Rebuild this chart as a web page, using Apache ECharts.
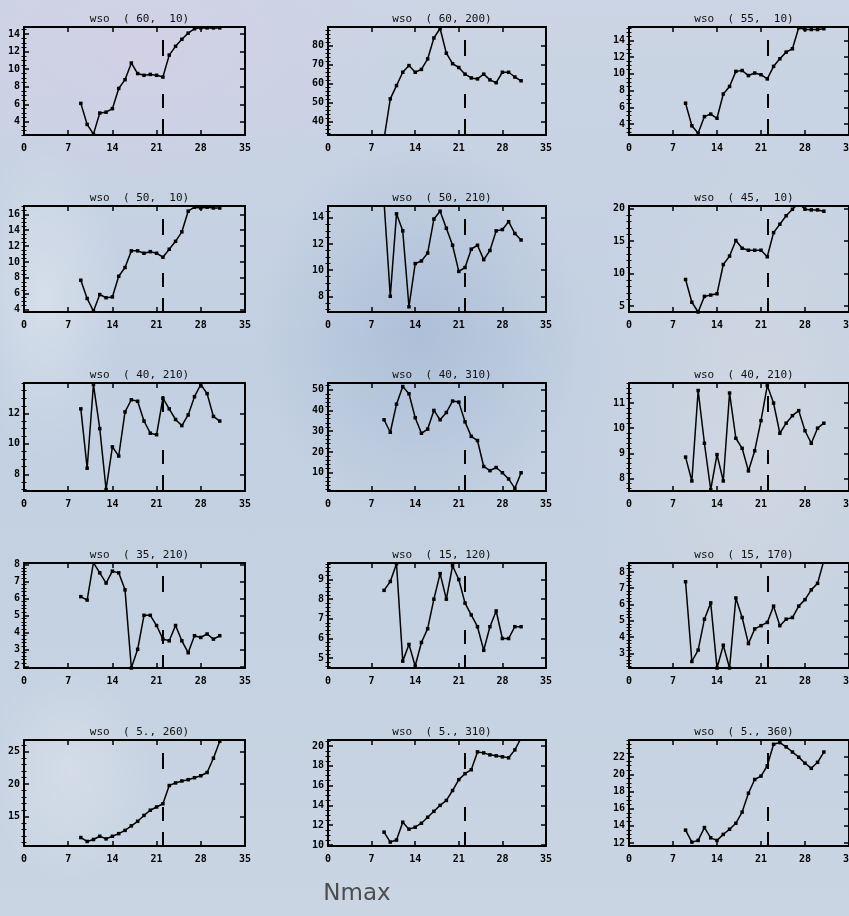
<!DOCTYPE html>
<html>
<head>
<meta charset="utf-8">
<script src="https://cdn.jsdelivr.net/npm/echarts@6/dist/echarts.min.js"></script>
<style>
  html, body { margin: 0; padding: 0; width: 849px; height: 916px; overflow: hidden; }
  body {
    background:
      radial-gradient(ellipse 110px 230px at 45px 300px, rgba(255,255,255,0.30), rgba(255,255,255,0) 70%),
      radial-gradient(ellipse 120px 160px at 70px 770px, rgba(255,255,255,0.22), rgba(255,255,255,0) 70%),
      radial-gradient(ellipse 230px 280px at 420px 330px, rgba(120,145,190,0.28), rgba(120,145,190,0) 70%),
      radial-gradient(ellipse 330px 190px at 140px 50px, rgba(214,206,230,0.7), rgba(214,206,230,0) 75%),
      radial-gradient(ellipse 260px 420px at 760px 420px, rgba(214,218,226,0.7), rgba(214,218,226,0) 75%),
      linear-gradient(180deg, #cbd5e4 0%, #c2d0e1 40%, #c5d2e1 70%, #cad5e3 100%);
  }
  #chart { width: 849px; height: 916px; }
</style>
</head>
<body>
<div id="chart"></div>
<script>
// Nmax values shared by every panel
const nmax = [9, 10, 11, 12, 13, 14, 15, 16, 17, 18, 19, 20, 21, 22, 23, 24, 25, 26, 27, 28, 29, 30, 31];

// Panel titles (station label and grid position)
const titles = [
  'wso  ( 60,  10)', 'wso  ( 60, 200)', 'wso  ( 55,  10)',
  'wso  ( 50,  10)', 'wso  ( 50, 210)', 'wso  ( 45,  10)',
  'wso  ( 40, 210)', 'wso  ( 40, 310)', 'wso  ( 40, 210)',
  'wso  ( 35, 210)', 'wso  ( 15, 120)', 'wso  ( 15, 170)',
  'wso  ( 5., 260)', 'wso  ( 5., 310)', 'wso  ( 5., 360)'
];

// Series values, one array per panel
const p60_10  = [6.1, 3.7, 2.6, 5.0, 5.1, 5.5, 7.8, 8.8, 10.7, 9.5, 9.3, 9.4, 9.3, 9.1, 11.6, 12.6, 13.4, 14.1, 14.6, 14.7, 14.7, 14.7, 14.7];
const p60_200 = [31, 52, 59, 66, 69.5, 66, 67.5, 73, 84, 89, 76, 70.5, 68.5, 65, 63, 62.5, 65, 62, 60.5, 66, 66, 63.5, 61.5];
const p55_10  = [6.5, 3.8, 2.9, 4.9, 5.2, 4.7, 7.6, 8.5, 10.3, 10.4, 9.8, 10.1, 9.9, 9.4, 10.9, 11.8, 12.6, 13.0, 15.5, 15.3, 15.3, 15.3, 15.4];
const p50_10  = [7.7, 5.4, 3.8, 5.9, 5.5, 5.6, 8.2, 9.3, 11.4, 11.4, 11.1, 11.3, 11.1, 10.6, 11.6, 12.6, 13.8, 16.4, 16.9, 16.8, 16.9, 16.8, 16.8];
const p50_210 = [15.2, 8.0, 14.3, 13.0, 7.2, 10.5, 10.7, 11.3, 13.9, 14.5, 13.2, 11.9, 9.9, 10.2, 11.6, 11.9, 10.8, 11.5, 13.0, 13.1, 13.7, 12.8, 12.3];
const p45_10  = [9.1, 5.6, 4.1, 6.5, 6.7, 6.9, 11.4, 12.7, 15.1, 13.9, 13.6, 13.6, 13.6, 12.6, 16.3, 17.6, 18.9, 19.9, 20.8, 19.9, 19.8, 19.8, 19.6];
const p40_210a = [12.3, 8.4, 13.9, 11.0, 7.0, 9.8, 9.2, 12.1, 12.9, 12.8, 11.5, 10.7, 10.6, 13.0, 12.3, 11.6, 11.2, 11.9, 13.1, 13.9, 13.3, 11.8, 11.5];
const p40_310 = [35.5, 29.5, 43, 51.5, 48, 36.5, 29, 31, 40, 35.5, 39, 44.5, 44, 34.5, 27.5, 25.5, 13, 11, 12.5, 10, 7, 2.5, 10];
const p40_210b = [8.85, 7.9, 11.5, 9.4, 7.55, 8.95, 7.9, 11.4, 9.6, 9.2, 8.3, 9.1, 10.3, 11.7, 11.0, 9.8, 10.2, 10.5, 10.7, 9.9, 9.4, 10.0, 10.2];
const p35_210 = [6.1, 5.9, 8.1, 7.5, 6.9, 7.6, 7.5, 6.5, 1.9, 3.0, 5.0, 5.0, 4.4, 3.6, 3.5, 4.4, 3.5, 2.8, 3.8, 3.7, 3.9, 3.6, 3.8];
const p15_120 = [8.45, 8.9, 9.8, 4.85, 5.7, 4.6, 5.8, 6.5, 8.0, 9.3, 8.0, 9.7, 9.0, 7.8, 7.2, 6.6, 5.4, 6.6, 7.4, 6.0, 6.0, 6.6, 6.6];
const p15_170 = [7.4, 2.5, 3.2, 5.1, 6.1, 2.1, 3.5, 2.1, 6.4, 5.2, 3.6, 4.5, 4.7, 4.9, 5.9, 4.7, 5.1, 5.2, 5.9, 6.3, 6.9, 7.3, 8.7];
const p5_260  = [11.8, 11.2, 11.5, 12.0, 11.6, 12.0, 12.4, 12.9, 13.6, 14.3, 15.2, 16.0, 16.5, 17.0, 19.8, 20.2, 20.5, 20.7, 21.0, 21.3, 21.8, 24.0, 26.6];
const p5_310  = [11.3, 10.3, 10.5, 12.3, 11.6, 11.8, 12.2, 12.8, 13.4, 14.0, 14.5, 15.5, 16.6, 17.2, 17.6, 19.4, 19.3, 19.1, 19.0, 18.9, 18.8, 19.6, 20.8];
const p5_360  = [13.5, 12.1, 12.3, 13.8, 12.6, 12.3, 13.0, 13.6, 14.3, 15.6, 17.8, 19.4, 19.8, 21.0, 23.5, 23.7, 23.2, 22.6, 22.0, 21.3, 20.7, 21.4, 22.6];

const panelValues = [
  p60_10, p60_200, p55_10,
  p50_10, p50_210, p45_10,
  p40_210a, p40_310, p40_210b,
  p35_210, p15_120, p15_170,
  p5_260, p5_310, p5_360
];

// Y tick labels per panel
const yTicks = [
  [4, 6, 8, 10, 12, 14], [40, 50, 60, 70, 80], [4, 6, 8, 10, 12, 14],
  [4, 6, 8, 10, 12, 14, 16], [8, 10, 12, 14], [5, 10, 15, 20],
  [8, 10, 12], [10, 20, 30, 40, 50], [8, 9, 10, 11],
  [2, 3, 4, 5, 6, 7, 8], [5, 6, 7, 8, 9], [3, 4, 5, 6, 7, 8],
  [15, 20, 25], [10, 12, 14, 16, 18, 20], [12, 14, 16, 18, 20, 22]
];
// Minor tick spacing per panel
const yMinorStep = [0.5, 2, 0.5, 0.5, 0.5, 1, 0.5, 2, 0.2, 0.2, 0.2, 0.2, 1, 0.5, 0.5];
// Y extent per panel
const yRange = [
  [2.5, 14.8], [33, 89.8], [2.7, 15.6],
  [3.7, 17.05], [6.8, 14.9], [4.1, 20.4],
  [6.9, 14.0], [1.2, 53.2], [7.5, 11.8],
  [1.9, 8.08], [4.5, 9.84], [2.1, 8.55],
  [10.5, 26.8], [9.9, 20.6], [11.65, 24.0]
];

// X axis ticks
const xTicks = [0, 7, 14, 21, 28, 35];
// Boundary marked by the dashed line
const splitN = 22;

// Layout of the 5 x 3 panel grid
const colLeft = [24, 328, 629];
const colWidth = [221, 218, 220];
const rowTop = [27, 206, 383, 563, 740];
const rowHeight = [108, 106, 108, 105, 106];

const labelFont = { fontFamily: 'DejaVu Sans Mono', fontWeight: 'bold', fontSize: 10, color: '#000' };

function minorValues(i) {
  const [lo, hi] = yRange[i];
  const step = yMinorStep[i];
  const out = [];
  const start = Math.ceil(lo / step - 1e-9);
  const end = Math.floor(hi / step + 1e-9);
  for (let k = start; k <= end; k++) {
    const v = Math.round(k * step * 1000) / 1000;
    if (!yTicks[i].some(t => Math.abs(t - v) < 1e-6)) out.push(v);
  }
  return out;
}

const grid = [], xAxis = [], yAxis = [], series = [], title = [];

panelValues.forEach((vals, i) => {
  const r = Math.floor(i / 3), c = i % 3;
  const [ymin, ymax] = yRange[i];
  grid.push({
    left: colLeft[c], top: rowTop[r], width: colWidth[c], height: rowHeight[r],
    containLabel: false, outerBoundsMode: 'none'
  });

  title.push({
    text: titles[i],
    left: colLeft[c] + colWidth[c] / 2,
    top: rowTop[r] - 18,
    textAlign: 'center',
    textStyle: { fontFamily: 'DejaVu Sans Mono', fontSize: 11, fontWeight: 'normal', color: '#111' }
  });

  const xBase = {
    type: 'value', gridIndex: i, min: 0, max: 35, interval: 7,
    splitLine: { show: false },
    axisLine: { show: true, onZero: false, lineStyle: { color: '#000', width: 2 } },
    axisTick: { show: true, inside: true, length: 5, lineStyle: { color: '#000', width: 1.5 } }
  };
  const xi = xAxis.length;
  xAxis.push(Object.assign({}, xBase, {
    position: 'bottom',
    axisLabel: Object.assign({ show: true, margin: 8, showMinLabel: true, showMaxLabel: true, customValues: xTicks }, labelFont)
  }));
  xAxis.push(Object.assign({}, xBase, { position: 'top', axisLabel: { show: false } }));

  const minors = minorValues(i);
  const yBase = { type: 'value', gridIndex: i, min: ymin, max: ymax, splitLine: { show: false } };
  const yi = yAxis.length;
  ['left', 'right'].forEach(pos => {
    yAxis.push(Object.assign({}, yBase, {
      position: pos,
      axisLine: { show: true, onZero: false, lineStyle: { color: '#000', width: 2 } },
      axisTick: { show: true, inside: true, length: 5, customValues: yTicks[i], lineStyle: { color: '#000', width: 1.5 } },
      axisLabel: pos === 'left'
        ? Object.assign({ show: true, margin: 4, customValues: yTicks[i] }, labelFont)
        : { show: false }
    }));
    yAxis.push(Object.assign({}, yBase, {
      position: pos,
      axisLine: { show: false },
      axisTick: { show: true, inside: true, length: 2.5, customValues: minors, lineStyle: { color: '#000', width: 1 } },
      axisLabel: { show: false }
    }));
  });

  series.push({
    type: 'line',
    xAxisIndex: xi,
    yAxisIndex: yi,
    data: nmax.map((n, k) => [n, vals[k]]),
    symbol: 'rect',
    symbolSize: 3.5,
    clip: true,
    silent: true,
    lineStyle: { color: '#000', width: 1.5 },
    itemStyle: { color: '#000' },
    markLine: {
      silent: true,
      symbol: ['none', 'none'],
      label: { show: false },
      lineStyle: { color: '#000', width: 2, type: [0.01, 13, 16, 38, 14, 11, 17, 30] },
      data: [[{ coord: [splitN, ymax] }, { coord: [splitN, ymin] }]]
    }
  });
});

title.push({
  text: 'Nmax',
  left: 352,
  top: 878,
  textAlign: 'center',
  textStyle: { fontFamily: 'DejaVu Sans', fontSize: 23, fontWeight: 'normal', color: '#4d4d4d' }
});

const chart = echarts.init(document.getElementById('chart'), null, { renderer: 'canvas' });
chart.setOption({
  backgroundColor: 'transparent',
  animation: false,
  title, grid, xAxis, yAxis, series
});
</script>
</body>
</html>
